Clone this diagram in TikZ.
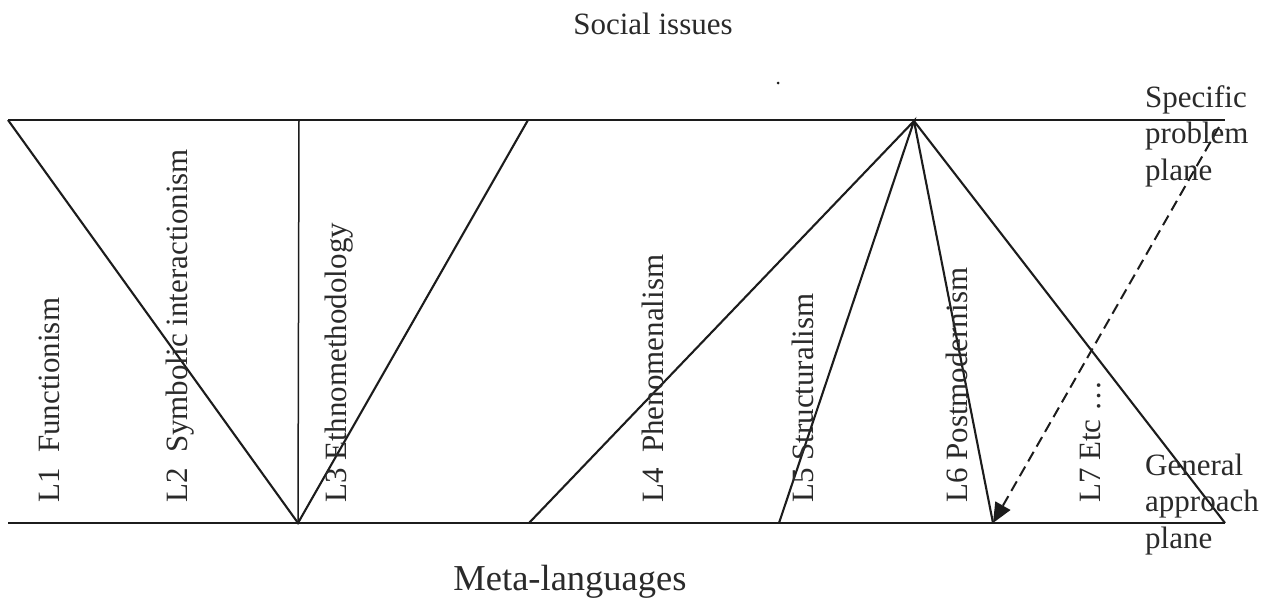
\documentclass[tikz,border=0pt]{standalone}
\usepackage{fontspec}
\setmainfont{Liberation Serif}
\usetikzlibrary{arrows.meta}
\definecolor{ink}{HTML}{1c1c1c}
\definecolor{txt}{HTML}{2a2a2a}
\begin{document}
\begin{tikzpicture}[x=1pt,y=-1pt,
  plane/.style={draw=ink,line width=2.3pt},
  ray/.style={draw=ink,line width=2.1pt},
  axis/.style={draw=ink,line width=1.5pt},
  lbl/.style={inner sep=0pt,text=txt,font=\fontsize{31}{36.5}\selectfont},
  vlbl/.style={lbl,rotate=90,anchor=base west},
  side/.style={lbl,anchor=base west},
  jump/.style={draw=ink,line width=2pt,dash pattern=on 11pt off 6pt,
    -{Triangle[length=20pt,width=17pt]}}]
\useasboundingbox (0,0) rectangle (1277,603);

% end points on the two planes
\coordinate (tl) at (8,120);
\coordinate (tr) at (1225,120);
\coordinate (bl) at (8,523);
\coordinate (br) at (1225,523);
\coordinate (vapex) at (298,523);
\coordinate (vtop) at (299,120);
\coordinate (vright) at (528,120);
\coordinate (fan) at (914,121);
\coordinate (f4) at (529,523);
\coordinate (f5) at (779,523);
\coordinate (f6) at (993,523);
\coordinate (djump) at (1219,127);

% specific problem plane and general approach plane
\draw[plane] (tl) -- (tr);
\draw[plane] (bl) -- (br);

% converging group L1--L3
\draw[ray] (tl) -- (vapex) -- (vright);
\draw[axis] (vtop) -- (vapex);

% diverging group L4--L7
\draw[ray] (f4) -- (fan) -- (f5);
\draw[ray] (fan) -- (f6);
\draw[ray] (fan) -- (br);

% move from the specific to the general plane
\draw[jump] (djump) -- (f6);

% stray mark
\fill[ink] (778,83) circle (1.5pt);

% headings
\node[lbl,anchor=base] (social) at (653,34) {Social issues};
\node[inner sep=0pt,text=txt,font=\fontsize{36.5}{40}\selectfont,anchor=base] (meta) at (570,590) {Meta-languages};

% plane names
\node[side] (spA) at (1145,107) {Specific};
\node[side] (spB) at (1145,143) {problem};
\node[side] (spC) at (1145,180) {plane};
\node[side] (gaA) at (1145,475) {General};
\node[side] (gaB) at (1145,511) {approach};
\node[side] (gaC) at (1145,548) {plane};

% languages
\node[vlbl] (l1) at (59,503) {L1\ \ Functionism};
\node[vlbl] (l2) at (187,503) {L2\ \ Symbolic interactionism};
\node[vlbl] (l3) at (346,503) {L3 Ethnomethodology};
\node[vlbl] (l4) at (663,503) {L4\ \ Phenomenalism};
\node[vlbl] (l5) at (813,503) {L5 Structuralism};
\node[vlbl] (l6) at (967,503) {L6 Postmodernism};
\node[vlbl] (l7) at (1100,503) {L7 Etc \dots};
\end{tikzpicture}
\end{document}
